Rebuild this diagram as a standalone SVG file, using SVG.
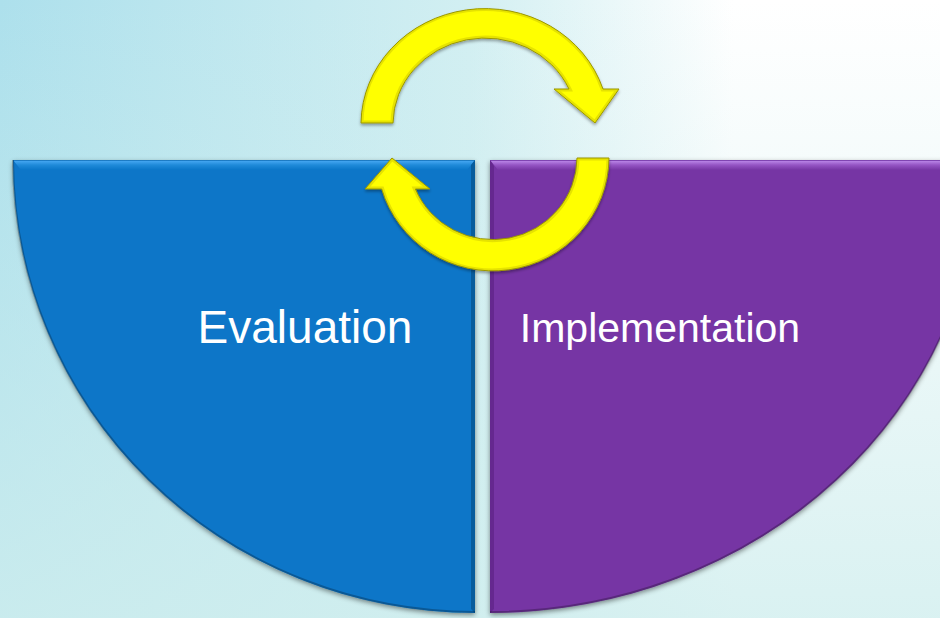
<svg xmlns="http://www.w3.org/2000/svg" width="940" height="618" viewBox="0 0 940 618">
  <defs>
    <linearGradient id="bgH" x1="0" y1="0" x2="1" y2="0">
      <stop offset="0" stop-color="#ade0ec"/>
      <stop offset="0.5" stop-color="#d2eff2"/>
      <stop offset="0.78" stop-color="#ffffff"/>
      <stop offset="1" stop-color="#ffffff"/>
    </linearGradient>
    <linearGradient id="bgV" x1="0" y1="0" x2="0" y2="1">
      <stop offset="0" stop-color="#d0eeee" stop-opacity="0"/>
      <stop offset="0.45" stop-color="#d0eeee" stop-opacity="0.35"/>
      <stop offset="1" stop-color="#d0eeee" stop-opacity="0.8"/>
    </linearGradient>
    <linearGradient id="blueTop" x1="0" y1="0" x2="0" y2="1">
      <stop offset="0" stop-color="#0c68b0"/>
      <stop offset="0.15" stop-color="#3fa2ee"/>
      <stop offset="0.5" stop-color="#1f8ad9"/>
      <stop offset="1" stop-color="#0a76c8"/>
    </linearGradient>
    <linearGradient id="purpleTop" x1="0" y1="0" x2="0" y2="1">
      <stop offset="0" stop-color="#66289a"/>
      <stop offset="0.15" stop-color="#b47ee2"/>
      <stop offset="0.5" stop-color="#9555c4"/>
      <stop offset="1" stop-color="#7636a4"/>
    </linearGradient>
    <filter id="shadow" x="-10%" y="-10%" width="120%" height="120%">
      <feDropShadow dx="0" dy="2" stdDeviation="2.5" flood-color="#000" flood-opacity="0.45"/>
    </filter>
    <filter id="arrowShadow" x="-10%" y="-10%" width="120%" height="125%">
      <feDropShadow dx="0" dy="2" stdDeviation="1.5" flood-color="#000" flood-opacity="0.35"/>
    </filter>
    <clipPath id="clipUp">
      <path d="M361,123 A124 116 0 0 1 603,89 L619,89 L595,123 L554,89 L569,89 A92 86 0 0 0 393,123 Z"/>
    </clipPath>
    <clipPath id="clipDown">
      <path d="M609,158 A116 114 0 0 1 381.7,189 L365,189 L392,158 L430,189 L415.4,189 A84 82 0 0 0 577,158 Z"/>
    </clipPath>
  </defs>
  <style>
    .label { font-family: "Liberation Sans", Arial, sans-serif; fill: #ffffff; text-anchor: middle; }
    .arrow { fill: #ffff00; }
    .rim { fill: none; stroke: #d6d000; stroke-width: 5; stroke-opacity: 0.6; }
    .edge { fill: none; stroke: #9a9600; stroke-width: 1; }
    .curveEdge { fill: none; stroke: #000; stroke-opacity: 0.25; stroke-width: 2; }
  </style>

  <rect x="0" y="0" width="940" height="618" fill="url(#bgH)"/>
  <rect x="0" y="0" width="940" height="618" fill="url(#bgV)"/>

  <g id="evaluation">
    <path d="M13,160 L475,160 L475,613 A462 453 0 0 1 13,160 Z" fill="#0a76c8" filter="url(#shadow)"/>
    <polygon points="13,160 475,160 467,170 21,170" fill="url(#blueTop)"/>
    <polygon points="475,160 475,613 471,609 471,165" fill="#075c9c"/>
    <path d="M475,612 A462 453 0 0 1 13,160" class="curveEdge"/>
    <text x="305" y="343" class="label" font-size="46">Evaluation</text>
  </g>

  <g id="implementation">
    <path d="M490,160 L980,160 A490 453 0 0 1 490,613 Z" fill="#7636a4" filter="url(#shadow)"/>
    <polygon points="490,160 940,160 940,170 498,170" fill="url(#purpleTop)"/>
    <polygon points="490,160 494,166 494,609 490,613" fill="#65288f"/>
    <path d="M980,160 A490 453 0 0 1 490,612" class="curveEdge"/>
    <text x="660" y="342" class="label" font-size="41">Implementation</text>
  </g>

  <g id="connectors">
    <g id="arrow-top" filter="url(#arrowShadow)">
      <path class="arrow" d="M361,123 A124 116 0 0 1 603,89 L619,89 L595,123 L554,89 L569,89 A92 86 0 0 0 393,123 Z"/>
      <path class="rim" clip-path="url(#clipUp)" d="M361,123 A124 116 0 0 1 603,89 L619,89 L595,123 L554,89 L569,89 A92 86 0 0 0 393,123 Z"/>
      <path class="edge" d="M361,123 A124 116 0 0 1 603,89 L619,89 L595,123 L554,89 L569,89 A92 86 0 0 0 393,123 Z"/>
    </g>
    <g id="arrow-bottom" filter="url(#arrowShadow)">
      <path class="arrow" d="M609,158 A116 114 0 0 1 381.7,189 L365,189 L392,158 L430,189 L415.4,189 A84 82 0 0 0 577,158 Z"/>
      <path class="rim" clip-path="url(#clipDown)" d="M609,158 A116 114 0 0 1 381.7,189 L365,189 L392,158 L430,189 L415.4,189 A84 82 0 0 0 577,158 Z"/>
      <path class="edge" d="M609,158 A116 114 0 0 1 381.7,189 L365,189 L392,158 L430,189 L415.4,189 A84 82 0 0 0 577,158 Z"/>
    </g>
  </g>
</svg>
